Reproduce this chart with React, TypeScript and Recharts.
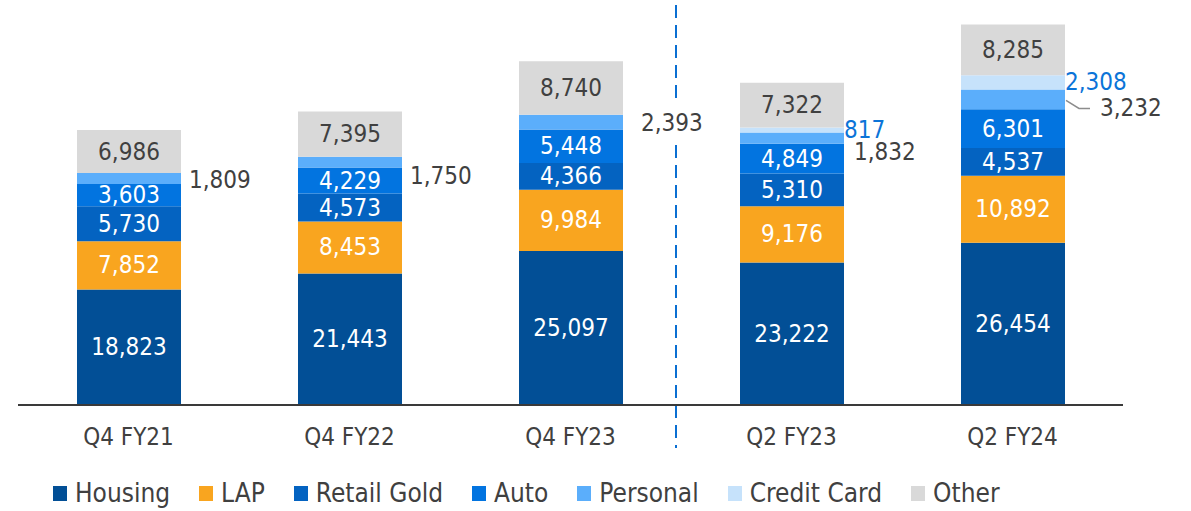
import { BarChart, Bar, XAxis, YAxis, LabelList, ReferenceLine, Legend } from "recharts";

const quarters = ["Q4 FY21", "Q4 FY22", "Q4 FY23", "Q2 FY23", "Q2 FY24"];
const housing = [18823, 21443, 25097, 23222, 26454];
const lap = [7852, 8453, 9984, 9176, 10892];
const retailGold = [5730, 4573, 4366, 5310, 4537];
const auto = [3603, 4229, 5448, 4849, 6301];
const personal = [1809, 1750, 2393, 1832, 3232];
const creditCard = [0, 0, 0, 817, 2308];
const other = [6986, 7395, 8740, 7322, 8285];

const seriesNames = ["Housing", "LAP", "Retail Gold", "Auto", "Personal", "Credit Card", "Other"];
const seriesColors = ["#024F96", "#F9A51F", "#0463C1", "#0274E0", "#5BAEFB", "#C6E2FB", "#D9D9D9"];

const data = quarters.map((q, i) => ({
  q,
  housing: housing[i],
  lap: lap[i],
  retailGold: retailGold[i],
  auto: auto[i],
  personal: personal[i],
  creditCard: creditCard[i],
  other: other[i],
}));

const FONT = "'DejaVu Sans Condensed', 'DejaVu Sans', sans-serif";
const DARK = "#404040";
const BLUE_TEXT = "#0B74D8";

const fmt = (v: number) => v.toLocaleString("en-US");

// nudges for labels drawn outside the bars
const personalNudge = [
  { dx: 8, dy: 2 },
  { dx: 8, dy: 14 },
  { dx: 18, dy: 1, box: true },
  { dx: 10, dy: 14 },
  { dx: 35, dy: 9, leader: true },
];
const creditNudge = [
  { dx: 0, dy: 0 },
  { dx: 0, dy: 0 },
  { dx: 0, dy: 0 },
  { dx: 22, dy: -3 },
  { dx: 9, dy: 3 },
];

const insideLabel = (fill: string) => (props: any) => {
  const { x, y, width, height, value } = props;
  if (!value) return null;
  return (
    <text
      x={x + width / 2}
      y={y + height / 2}
      dominantBaseline="central"
      textAnchor="middle"
      fill={fill}
      fontSize={24}
      fontFamily={FONT}
    >
      {fmt(value)}
    </text>
  );
};

const personalLabel = (props: any) => {
  const { x, y, width, height, value, index } = props;
  if (!value) return null;
  const n = personalNudge[index];
  const right = x + width;
  const cy = y + height / 2;
  const tx = right + n.dx;
  const ty = cy + n.dy;
  return (
    <g>
      {n.box && <rect x={tx - 10} y={ty - 20} width={83} height={38} fill="#ffffff" />}
      {n.leader && (
        <polyline
          points={`${right + 1},${cy + 1} ${right + 14},${ty} ${right + 25},${ty}`}
          fill="none"
          stroke="#8c8c8c"
          strokeWidth={1.5}
        />
      )}
      <text x={tx} y={ty} dominantBaseline="central" fill={DARK} fontSize={24} fontFamily={FONT}>
        {fmt(value)}
      </text>
    </g>
  );
};

const creditLabel = (props: any) => {
  const { x, y, width, height, value, index } = props;
  if (!value) return null;
  const n = creditNudge[index];
  return (
    <text
      x={x + width + n.dx}
      y={y + height / 2 + n.dy}
      dominantBaseline="central"
      fill={BLUE_TEXT}
      fontSize={24}
      fontFamily={FONT}
    >
      {fmt(value)}
    </text>
  );
};

const LegendRow = () => (
  <div
    style={{
      display: "flex",
      alignItems: "center",
      height: 36,
      paddingLeft: 53,
      gap: 29,
      fontFamily: FONT,
      fontSize: 26,
      color: DARK,
    }}
  >
    {seriesNames.map((name, i) => (
      <div key={name} style={{ display: "flex", alignItems: "center", gap: 8 }}>
        <span style={{ width: 14, height: 15, background: seriesColors[i], display: "inline-block" }} />
        <span>{name}</span>
      </div>
    ))}
  </div>
);

const DashedDivider = (props: any) => {
  const { x1, y1, x2, y2 } = props;
  return (
    <line
      x1={x1 - 5}
      y1={y1}
      x2={x2 - 5}
      y2={y2}
      stroke="#0A6FD2"
      strokeWidth={2}
      strokeDasharray="13 7"
    />
  );
};

export default function App() {
  return (
    <div style={{ position: "absolute", left: 0, top: 0, width: 1191, height: 511, background: "#ffffff" }}>
      <BarChart
        width={1191}
        height={511}
        data={data}
        margin={{ top: 0, right: 68, bottom: 0, left: 18 }}
        barSize={104}
      >
        <XAxis
          dataKey="q"
          height={70}
          tickLine={false}
          axisLine={{ stroke: "#3a3a3a", strokeWidth: 2 }}
          tickMargin={17}
          tick={{ fill: DARK, fontSize: 24, fontFamily: FONT }}
        />
        <YAxis hide domain={[0, 66000]} />
        <ReferenceLine
          segment={[
            { x: "Q4 FY23", y: 65200 },
            { x: "Q4 FY23", y: -7000 },
          ]}
          position="end"
          ifOverflow="visible"
          shape={DashedDivider}
        />
        <Bar dataKey="housing" name={seriesNames[0]} stackId="a" fill={seriesColors[0]} isAnimationActive={false}>
          <LabelList dataKey="housing" content={insideLabel("#ffffff")} />
        </Bar>
        <Bar dataKey="lap" name={seriesNames[1]} stackId="a" fill={seriesColors[1]} isAnimationActive={false}>
          <LabelList dataKey="lap" content={insideLabel("#ffffff")} />
        </Bar>
        <Bar dataKey="retailGold" name={seriesNames[2]} stackId="a" fill={seriesColors[2]} isAnimationActive={false}>
          <LabelList dataKey="retailGold" content={insideLabel("#ffffff")} />
        </Bar>
        <Bar dataKey="auto" name={seriesNames[3]} stackId="a" fill={seriesColors[3]} isAnimationActive={false}>
          <LabelList dataKey="auto" content={insideLabel("#ffffff")} />
        </Bar>
        <Bar dataKey="personal" name={seriesNames[4]} stackId="a" fill={seriesColors[4]} isAnimationActive={false}>
          <LabelList dataKey="personal" content={personalLabel} />
        </Bar>
        <Bar dataKey="creditCard" name={seriesNames[5]} stackId="a" fill={seriesColors[5]} isAnimationActive={false}>
          <LabelList dataKey="creditCard" content={creditLabel} />
        </Bar>
        <Bar dataKey="other" name={seriesNames[6]} stackId="a" fill={seriesColors[6]} isAnimationActive={false}>
          <LabelList dataKey="other" content={insideLabel(DARK)} />
        </Bar>
        <Legend
          verticalAlign="bottom"
          align="left"
          height={36}
          wrapperStyle={{ left: 0, bottom: 0, width: 1191, height: 36 }}
          content={<LegendRow />}
        />
      </BarChart>
    </div>
  );
}
